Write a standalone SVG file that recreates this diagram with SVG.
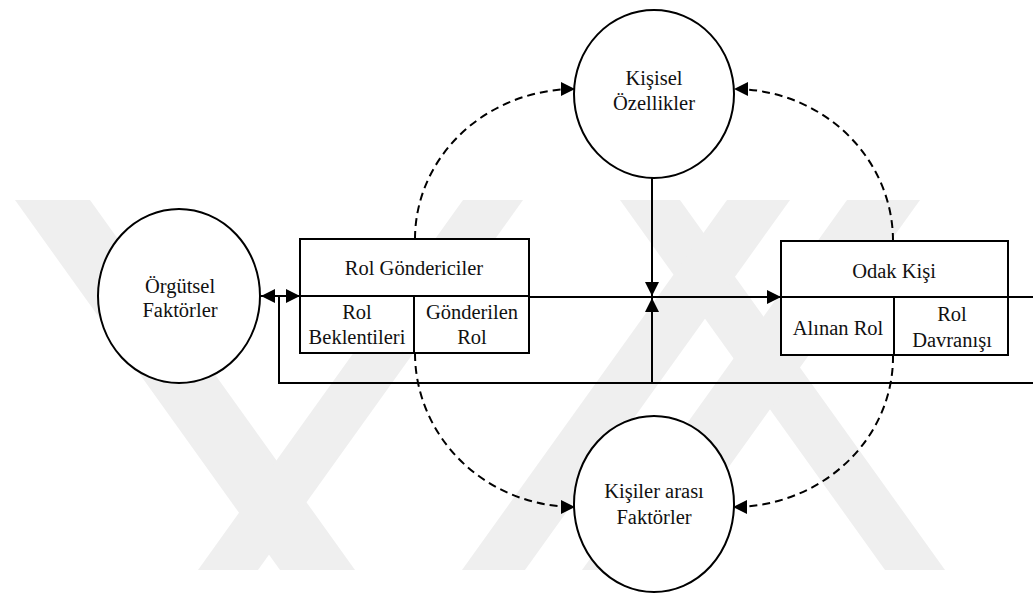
<svg xmlns="http://www.w3.org/2000/svg" width="1033" height="596" viewBox="0 0 1033 596">
  <style>
    .wm { fill: #efefef; stroke: none; }
    .node { fill: #ffffff; stroke: #000000; stroke-width: 2; }
    .line { fill: none; stroke: #000000; stroke-width: 2; }
    .dash { fill: none; stroke: #000000; stroke-width: 2; stroke-dasharray: 8 5; }
    .lbl { font-size: 20.5px; fill: #111111; text-anchor: middle; }
  </style>
  <defs>
    <marker id="arrow" viewBox="0 0 14 14" refX="14" refY="7" markerWidth="14" markerHeight="14" markerUnits="userSpaceOnUse" orient="auto-start-reverse">
      <path d="M0,0 L14,7 L0,14 Z" fill="#000000"/>
    </marker>
  </defs>

  <rect width="1033" height="596" fill="#ffffff"/>

  <!-- background mark -->
  <g id="background-mark">
    <polygon class="wm" points="15,200 90,200 355,570 280,570"/>
    <polygon class="wm" points="463,200 523,200 258,570 198,570"/>
    <polygon class="wm" points="620,200 680,200 945,570 885,570"/>
    <polygon class="wm" points="727,200 790,200 525,570 462,570"/>
    <polygon class="wm" points="847,200 920,200 655,570 582,570"/>
  </g>

  <!-- connectors -->
  <g id="connectors">
    <!-- dashed influence arcs -->
    <path class="dash" d="M415,239 A160,150 0 0 1 575,89" marker-end="url(#arrow)"/>
    <path class="dash" d="M415,353 A160,154 0 0 0 575,507" marker-end="url(#arrow)"/>
    <path class="dash" d="M893,241 A159,152 0 0 0 734,89" marker-end="url(#arrow)"/>
    <path class="dash" d="M893,355 A160,150 0 0 1 733,507" marker-end="url(#arrow)"/>
    <!-- main flow -->
    <path class="line" d="M529,297 H781" marker-end="url(#arrow)"/>
    <path class="line" d="M1008,297 H1033"/>
    <!-- feedback loop -->
    <path class="line" d="M1033,383 H279 V296"/>
    <path class="line" d="M261,296 H300" marker-start="url(#arrow)" marker-end="url(#arrow)"/>
    <!-- vertical inputs to the main flow -->
    <path class="line" d="M652,177 V296" marker-end="url(#arrow)"/>
    <path class="line" d="M652,383 V298" marker-end="url(#arrow)"/>
  </g>

  <g font-family="'Liberation Serif', 'Times New Roman', 'DejaVu Serif', serif">
    <g id="orgutsel-faktorler">
      <ellipse class="node" cx="179" cy="296" rx="81" ry="87"/>
      <text class="lbl" x="180" y="293">Örgütsel</text>
      <text class="lbl" x="180" y="317">Faktörler</text>
    </g>

    <g id="kisisel-ozellikler">
      <ellipse class="node" cx="654" cy="94" rx="80" ry="84"/>
      <text class="lbl" x="654" y="85">Kişisel</text>
      <text class="lbl" x="654" y="110">Özellikler</text>
    </g>

    <g id="kisiler-arasi-faktorler">
      <ellipse class="node" cx="654" cy="504" rx="80" ry="88"/>
      <text class="lbl" x="654" y="498">Kişiler arası</text>
      <text class="lbl" x="654" y="524">Faktörler</text>
    </g>

    <g id="rol-gondericiler">
      <rect class="node" x="300" y="239" width="229" height="114"/>
      <path class="line" d="M300,296 H529 M414,296 V353"/>
      <text class="lbl" x="414" y="275">Rol Göndericiler</text>
      <text class="lbl" x="357" y="319">Rol</text>
      <text class="lbl" x="357" y="344">Beklentileri</text>
      <text class="lbl" x="472" y="319">Gönderilen</text>
      <text class="lbl" x="472" y="344">Rol</text>
    </g>

    <g id="odak-kisi">
      <rect class="node" x="781" y="241" width="227" height="114"/>
      <path class="line" d="M781,297 H1008 M894,297 V355"/>
      <text class="lbl" x="894" y="278">Odak Kişi</text>
      <text class="lbl" x="838" y="335">Alınan Rol</text>
      <text class="lbl" x="952" y="321">Rol</text>
      <text class="lbl" x="952" y="347">Davranışı</text>
    </g>
  </g>
</svg>
